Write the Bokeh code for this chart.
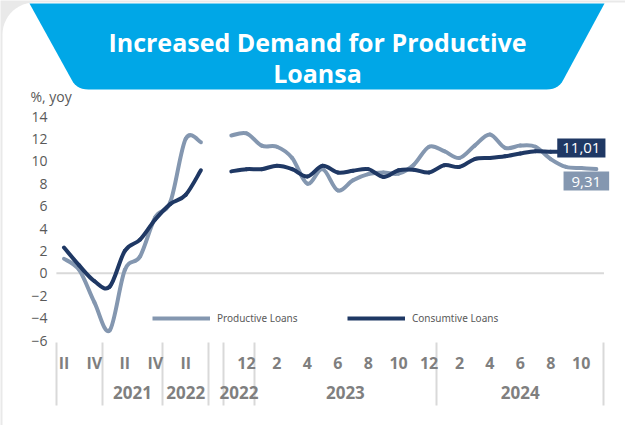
import numpy as np
from bokeh.plotting import figure
from bokeh.models import Range1d, LinearAxis, FixedTicker, Label, Legend, LegendItem
from bokeh.embed import file_html
from bokeh.resources import INLINE

# ---------------- data ----------------
quarters = ["2020 Q2", "2020 Q3", "2020 Q4", "2021 Q1", "2021 Q2", "2021 Q3",
            "2021 Q4", "2022 Q1", "2022 Q2", "2022 Q3"]
productive_q = [1.3, 0.3, -2.6, -5.1, 0.3, 1.5, 5.0, 6.4, 12.0, 11.7]
consumptive_q = [2.3, 0.7, -0.7, -1.2, 2.0, 3.0, 4.8, 6.2, 7.0, 9.2]
quarter_labels = ["II", "", "IV", "", "II", "", "IV", "", "II", ""]

months = ["2022-11", "2022-12",
          "2023-01", "2023-02", "2023-03", "2023-04", "2023-05", "2023-06",
          "2023-07", "2023-08", "2023-09", "2023-10", "2023-11", "2023-12",
          "2024-01", "2024-02", "2024-03", "2024-04", "2024-05", "2024-06",
          "2024-07", "2024-08", "2024-09", "2024-10", "2024-11"]
productive_m = [12.3, 12.5, 11.4, 11.3, 10.3, 8.0, 9.3, 7.4, 8.3, 8.85, 9.0, 8.9,
                9.7, 11.3, 10.9, 10.3, 11.4, 12.4, 11.2, 11.4, 11.3, 10.2, 9.5,
                9.4, 9.31]
consumptive_m = [9.1, 9.3, 9.3, 9.6, 9.3, 8.65, 9.6, 9.0, 9.15, 9.3, 8.6, 9.2,
                 9.25, 9.0, 9.65, 9.5, 10.2, 10.3, 10.45, 10.7, 10.9, 10.85,
                 10.85, 10.95, 11.01]
month_labels = ["", "12", "", "2", "", "4", "", "6", "", "8", "", "10", "",
                "12", "", "2", "", "4", "", "6", "", "8", "", "10", ""]

year_labels = ["", "2021", "2022", "2022", "2023", "2024"]
y_ticks = [-6, -4, -2, 0, 2, 4, 6, 8, 10, 12, 14]
series_names = ["Productive Loans", "Consumtive Loans"]

title_lines = ["Increased Demand for Productive", "Loansa"]
unit_text = "%, yoy"

# ---------------- layout / style ----------------
W, H = 625, 425
X0_PX, DX_PX = 63.5, 15.21    # centre of first category slot, slot width (px)
Y0_PX, DY_PX = 272.8, 11.2    # pixel row of value 0, px per unit

LIGHT = "#8497B0"
DARK = "#1F3864"
GRID = "#D9D9D9"
BANNER = "#00A7E7"
FONT = "Open Sans"


def to_data(xp, yp):
    return (xp - X0_PX) / DX_PX, (Y0_PX - yp) / DY_PX


def poly_to_data(pts):
    xs, ys = zip(*[to_data(a, b) for a, b in pts])
    return list(xs), list(ys)


# category slot positions: quarters, one empty slot, months
xq = list(range(len(quarters)))
gap_slot = len(quarters)
xm = [gap_slot + 1 + k for k in range(len(months))]
slot_years = [q[:4] for q in quarters] + [None] + [m[:4] for m in months]

# year groups -> boundaries and centres
groups = []
start = None
for i, yr in enumerate(slot_years + [None]):
    if start is not None and (yr != slot_years[start] or yr is None):
        groups.append((start, i - 1))
        start = None
    if yr is not None and start is None:
        start = i
bounds = sorted(set([g[0] - 0.5 for g in groups] + [g[1] + 0.5 for g in groups]))
centres = [(a + b) / 2 for a, b in groups]

p = figure(width=W, height=H, output_backend="svg", toolbar_location=None,
           x_range=Range1d(-X0_PX / DX_PX, (W - X0_PX) / DX_PX),
           y_range=Range1d((Y0_PX - H) / DY_PX, Y0_PX / DY_PX),
           x_axis_location=None, y_axis_location=None,
           min_border=0, outline_line_color=None,
           background_fill_color="#E9E9E9", border_fill_color="#E9E9E9")
p.grid.visible = False

# card
def rounded_rect(x0, y0, x1, y1, r, n=14):
    pts = []
    for cx, cy, a0, a1 in [(x0 + r, y0 + r, 180, 270), (x1 - r, y0 + r, 270, 360),
                           (x1 - r, y1 - r, 0, 90), (x0 + r, y1 - r, 90, 180)]:
        for t in np.linspace(np.radians(a0), np.radians(a1), n):
            pts.append((cx + r * np.cos(t), cy + r * np.sin(t)))
    return pts

cx_, cy_ = poly_to_data(rounded_rect(2, 2, 660, 470, 32))
p.patch(cx_, cy_, fill_color="white", line_color=None)

# banner
def quad(p0, c, p1, n=8):
    out = []
    for t in np.linspace(0, 1, n):
        out.append(((1 - t) ** 2 * p0[0] + 2 * (1 - t) * t * c[0] + t ** 2 * p1[0],
                    (1 - t) ** 2 * p0[1] + 2 * (1 - t) * t * c[1] + t ** 2 * p1[1]))
    return out

banner = [(29, 3), (604, 3)] + quad((563, 79), (558, 89), (546, 89)) + \
         quad((88, 89), (76, 89), (71, 79))
bx, by = poly_to_data(banner)
p.patch(bx, by, fill_color=BANNER, line_color=None)

for txt, ypx in zip(title_lines, [41, 72]):
    lx, ly = to_data(317, ypx)
    p.add_layout(Label(x=lx, y=ly, text=txt, text_align="center",
                       text_baseline="alphabetic", text_color="white",
                       text_font=FONT, text_font_style="bold",
                       text_font_size="25px"))

ux, uy = to_data(30, 96)
p.add_layout(Label(x=ux, y=uy, text=unit_text, text_align="left",
                   text_baseline="middle", text_color="#595959",
                   text_font=FONT, text_font_size="14px"))

# zero line
p.segment(x0=[bounds[0]], y0=[0], x1=[bounds[-1]], y1=[0],
          line_color=GRID, line_width=2)


# series drawn as smoothed curves (Bezier segments through every data point)
def smooth_segments(xs, ys):
    P = np.column_stack([xs, ys]).astype(float)
    n = len(P)
    seg = dict(x0=[], y0=[], x1=[], y1=[], cx0=[], cy0=[], cx1=[], cy1=[])
    for i in range(n - 1):
        p0 = P[i - 1] if i > 0 else P[i]
        p1, p2 = P[i], P[i + 1]
        p3 = P[i + 2] if i + 2 < n else P[i + 1]
        c1 = p1 + (p2 - p0) / 6.0
        c2 = p2 - (p3 - p1) / 6.0
        for k, v in zip(["x0", "y0", "x1", "y1", "cx0", "cy0", "cx1", "cy1"],
                        [p1[0], p1[1], p2[0], p2[1], c1[0], c1[1], c2[0], c2[1]]):
            seg[k].append(float(v))
    return seg


for xs, ys, col in [(xq, productive_q, LIGHT), (xm, productive_m, LIGHT),
                    (xq, consumptive_q, DARK), (xm, consumptive_m, DARK)]:
    p.bezier(**smooth_segments(xs, ys), line_color=col, line_width=4,
             line_cap="round")

# legend proxies (single point each -> nothing visible in the plot)
leg_p = p.line(x=xq[:1], y=productive_q[:1], line_color=LIGHT, line_width=4)
leg_c = p.line(x=xq[:1], y=consumptive_q[:1], line_color=DARK, line_width=4)


# end labels
def fmt(v):
    return f"{v:.2f}".replace(".", ",")

p.add_layout(Label(x=xm[-1], y=consumptive_m[-1], text=fmt(consumptive_m[-1]),
                   x_offset=-15, y_offset=2, text_align="center",
                   text_baseline="middle", text_color="white",
                   text_font=FONT, text_font_size="15px",
                   background_fill_color=DARK,
                   padding=dict(left=5, right=5, top=5, bottom=4)))
p.add_layout(Label(x=xm[-1], y=productive_m[-1], text=fmt(productive_m[-1]),
                   x_offset=-10, y_offset=-12, text_align="center",
                   text_baseline="middle", text_color="white",
                   text_font=FONT, text_font_size="15px",
                   background_fill_color=LIGHT,
                   padding=dict(left=8, right=8, top=5, bottom=4)))

# legend
legend = Legend(items=[LegendItem(label=series_names[0], renderers=[leg_p]),
                       LegendItem(label=series_names[1], renderers=[leg_c])],
                orientation="horizontal", location=(152, 100),
                glyph_width=58, glyph_height=14, label_width=97,
                label_standoff=7, spacing=33, padding=0, margin=0,
                label_text_font="Noto Sans", label_text_font_size="10px",
                label_text_color="#595959",
                background_fill_alpha=0, border_line_color=None)
p.add_layout(legend)

# y axis
yax = LinearAxis(fixed_location=to_data(50, 0)[0],
                 ticker=FixedTicker(ticks=y_ticks),
                 axis_line_color=None, major_tick_line_color=None,
                 minor_tick_line_color=None, major_tick_out=0, major_tick_in=0,
                 major_label_standoff=3,
                 major_label_text_font=FONT, major_label_text_font_size="14px",
                 major_label_text_color="#595959")
p.add_layout(yax, "left")

# separators (long ticks)
sep = LinearAxis(fixed_location=to_data(0, 342)[1],
                 ticker=FixedTicker(ticks=bounds),
                 axis_line_color=None, major_tick_line_color=GRID,
                 major_tick_line_width=2, major_tick_out=63, major_tick_in=0,
                 minor_tick_line_color=None,
                 major_label_text_font_size="0px",
                 major_label_overrides={b: "" for b in bounds})
p.add_layout(sep, "below")

# row 1: quarter / month labels
row1_pos = xq + xm
row1_txt = quarter_labels + month_labels
row1 = {x: t for x, t in zip(row1_pos, row1_txt) if t}
ax1 = LinearAxis(fixed_location=to_data(0, 351)[1],
                 ticker=FixedTicker(ticks=list(row1.keys())),
                 major_label_overrides=row1,
                 axis_line_color=None, major_tick_line_color=None,
                 minor_tick_line_color=None, major_tick_out=0, major_tick_in=0,
                 major_label_standoff=0,
                 major_label_text_font=FONT, major_label_text_font_style="bold",
                 major_label_text_font_size="16px",
                 major_label_text_color="#7F7F7F")
p.add_layout(ax1, "below")

# row 2: years
row2 = {c: t for c, t in zip(centres, year_labels) if t}
ax2 = LinearAxis(fixed_location=to_data(0, 385)[1],
                 ticker=FixedTicker(ticks=list(row2.keys())),
                 major_label_overrides=row2,
                 axis_line_color=None, major_tick_line_color=None,
                 minor_tick_line_color=None, major_tick_out=0, major_tick_in=0,
                 major_label_standoff=0,
                 major_label_text_font=FONT, major_label_text_font_style="bold",
                 major_label_text_font_size="17px",
                 major_label_text_color="#7F7F7F")
p.add_layout(ax2, "below")

open("out.html", "w").write(file_html(p, INLINE))
